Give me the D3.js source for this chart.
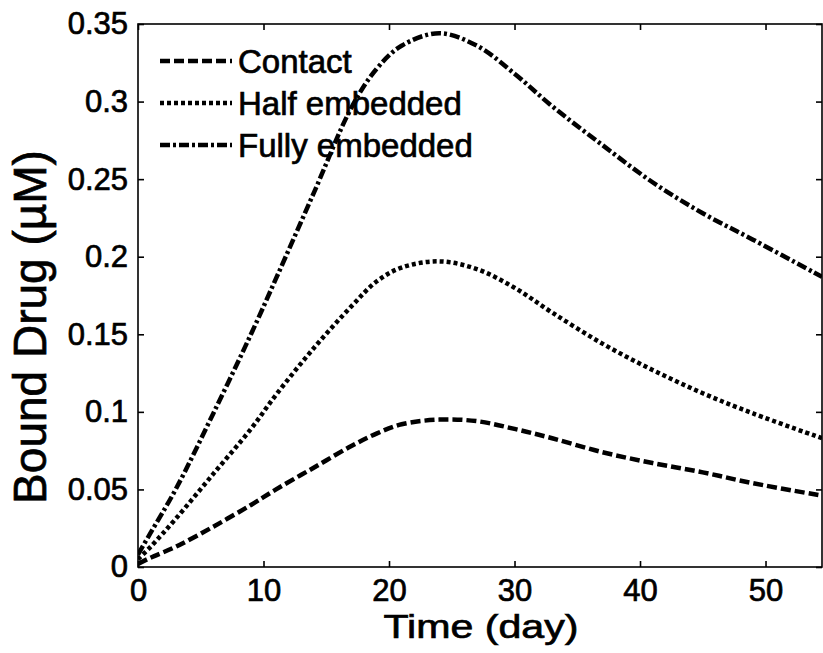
<!DOCTYPE html>
<html>
<head>
<meta charset="utf-8">
<script src="https://cdn.jsdelivr.net/npm/d3@7"></script>
<style>
 body{margin:0;background:#fff;}
 text{font-family:"Liberation Sans",Arial,sans-serif;fill:#000;stroke:#000;stroke-width:0.7px;}
</style>
</head>
<body>
<script>
// time points (day)
var days = [0,1,3,6,9,11,14,17,19,21,24,27,30,33,37,41,45,49,54.5];

var contact = [0.002,0.006,0.013,0.026,0.040,0.050,0.064,0.078,0.086,0.092,0.095,0.094,0.089,0.083,0.074,0.067,0.061,0.054,0.046];
var halfEmb = [0.005,0.013,0.031,0.060,0.089,0.111,0.141,0.168,0.184,0.193,0.197,0.192,0.180,0.164,0.144,0.127,0.112,0.099,0.083];
var fullyEmb = [0.008,0.022,0.050,0.099,0.150,0.186,0.241,0.296,0.321,0.336,0.344,0.336,0.318,0.297,0.272,0.248,0.228,0.211,0.187];

var seriesNames = ["Contact","Half embedded","Fully embedded"];
var xTicks = [0,10,20,30,40,50];
var yTicks = [0,0.05,0.1,0.15,0.2,0.25,0.3,0.35];
var yTickLabels = ["0","0.05","0.1","0.15","0.2","0.25","0.3","0.35"];

var W = 823, H = 653;
var pL = 138, pR = 822, pT = 24, pB = 567;

var svg = d3.select("body").append("svg")
    .attr("width", W)
    .attr("height", H);

var x = d3.scaleLinear().domain([0,54.5]).range([pL,pR]);
var y = d3.scaleLinear().domain([0,0.35]).range([pB,pT]);

svg.append("defs").append("clipPath").attr("id","plot")
   .append("rect").attr("x",pL).attr("y",pT).attr("width",pR-pL).attr("height",pB-pT);

// frame
svg.append("rect")
   .attr("x",pL).attr("y",pT).attr("width",pR-pL).attr("height",pB-pT)
   .attr("fill","none").attr("stroke","#000").attr("stroke-width",1.6);

// axes, ticks point inward
var fs = 31;
var gx = svg.append("g").attr("transform","translate(0,"+pB+")")
   .call(d3.axisBottom(x).tickValues(xTicks).tickSizeInner(-6).tickSizeOuter(0).tickPadding(12).tickFormat(d3.format("d")));
var gxt = svg.append("g").attr("transform","translate(0,"+pT+")")
   .call(d3.axisTop(x).tickValues(xTicks).tickSizeInner(-6).tickSizeOuter(0).tickFormat(""));
var gy = svg.append("g").attr("transform","translate("+pL+",0)")
   .call(d3.axisLeft(y).tickValues(yTicks).tickSizeInner(-6).tickSizeOuter(0).tickPadding(10)
   .tickFormat(function(d,i){ return yTickLabels[i]; }));
var gyr = svg.append("g").attr("transform","translate("+pR+",0)")
   .call(d3.axisRight(y).tickValues(yTicks).tickSizeInner(-6).tickSizeOuter(0).tickFormat(""));

[gx,gxt,gy,gyr].forEach(function(g){
  g.select(".domain").remove();
  g.selectAll(".tick line").attr("stroke","#000").attr("stroke-width",1.6);
  g.selectAll("text").style("font-size",fs+"px").attr("fill","#000");
});
gx.selectAll("text").attr("dy","0.71em");

// axis titles
svg.append("text")
   .attr("x",481).attr("y",638)
   .attr("text-anchor","middle")
   .style("font-size","34px")
   .attr("textLength",195)
   .attr("lengthAdjust","spacingAndGlyphs")
   .text("Time (day)");
svg.append("text")
   .attr("transform","translate(46,327) rotate(-90)")
   .attr("text-anchor","middle")
   .style("font-size","46px")
   .text("Bound Drug (\u00b5M)");

// lines
var dashes = ["10,4","4,3","10,3,3,3"];
var allSeries = [contact, halfEmb, fullyEmb];

var line = d3.line()
   .x(function(d,i){ return x(days[i]); })
   .y(function(d){ return y(d); })
   .curve(d3.curveCatmullRom.alpha(0.5));

svg.append("g").attr("clip-path","url(#plot)")
   .selectAll("path").data(allSeries).enter().append("path")
   .attr("d",line)
   .attr("fill","none")
   .attr("stroke","#000")
   .attr("stroke-width",4.5)
   .attr("stroke-dasharray",function(d,i){ return dashes[i]; });

// legend
var legY = [61,103,145];
var lg = svg.append("g");
seriesNames.forEach(function(name,i){
  lg.append("line")
    .attr("x1",160).attr("x2",232).attr("y1",legY[i]).attr("y2",legY[i])
    .attr("stroke","#000").attr("stroke-width",4.5)
    .attr("stroke-dasharray",dashes[i]);
  lg.append("text")
    .attr("x",238).attr("y",legY[i]+12)
    .style("font-size","33px")
    .text(name);
});
</script>
</body>
</html>
